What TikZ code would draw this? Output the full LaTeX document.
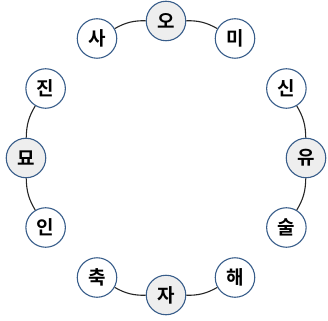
\documentclass[tikz,border=0pt]{standalone}
\usepackage{fontspec}
\usetikzlibrary{calc}
\newfontfamily\kr{Noto Sans CJK KR}[BoldFont={Noto Sans CJK KR Bold}]
\definecolor{nodeblue}{RGB}{56,93,138}
\definecolor{midfill}{RGB}{238,238,238}
\begin{document}
\begin{tikzpicture}[x=1pt,y=1pt,
  br/.style={circle, draw=nodeblue, line width=1.1pt, fill=white, minimum size=39.5pt, inner sep=0pt, font=\kr\bfseries\fontsize{19}{19}\selectfont},
  mid/.style={br, fill=midfill},
  link/.style={draw=black!85, line width=1.1pt}]
\useasboundingbox (0,0) rectangle (328,-320);
\coordinate (c) at (166,-158);
\node[br]  (sa)   at ($(c)+(120:138)$) {사};
\node[mid] (o)    at ($(c)+(90:137)$)  {오};
\node[br]  (mi)   at ($(c)+(60:138)$)  {미};
\node[br]  (sin)  at ($(c)+(30:139)$)  {신};
\node[mid] (yu)   at ($(c)+(0:140)$)   {유};
\node[br]  (sul)  at ($(c)+(-30:139)$) {술};
\node[br]  (hae)  at ($(c)+(-60:138)$) {해};
\node[mid] (ja)   at ($(c)+(-90:137)$) {자};
\node[br]  (chuk) at ($(c)+(-120:138)$) {축};
\node[br]  (in)   at ($(c)+(-150:139)$) {인};
\node[mid] (myo)  at ($(c)+(180:140)$) {묘};
\node[br]  (jin)  at ($(c)+(150:139)$) {진};
\draw[link] (sa) to[bend left=15] (o);
\draw[link] (o) to[bend left=15] (mi);
\draw[link] (sin) to[bend left=15] (yu);
\draw[link] (yu) to[bend left=15] (sul);
\draw[link] (hae) to[bend left=15] (ja);
\draw[link] (ja) to[bend left=15] (chuk);
\draw[link] (in) to[bend left=15] (myo);
\draw[link] (myo) to[bend left=15] (jin);
\end{tikzpicture}
\end{document}
